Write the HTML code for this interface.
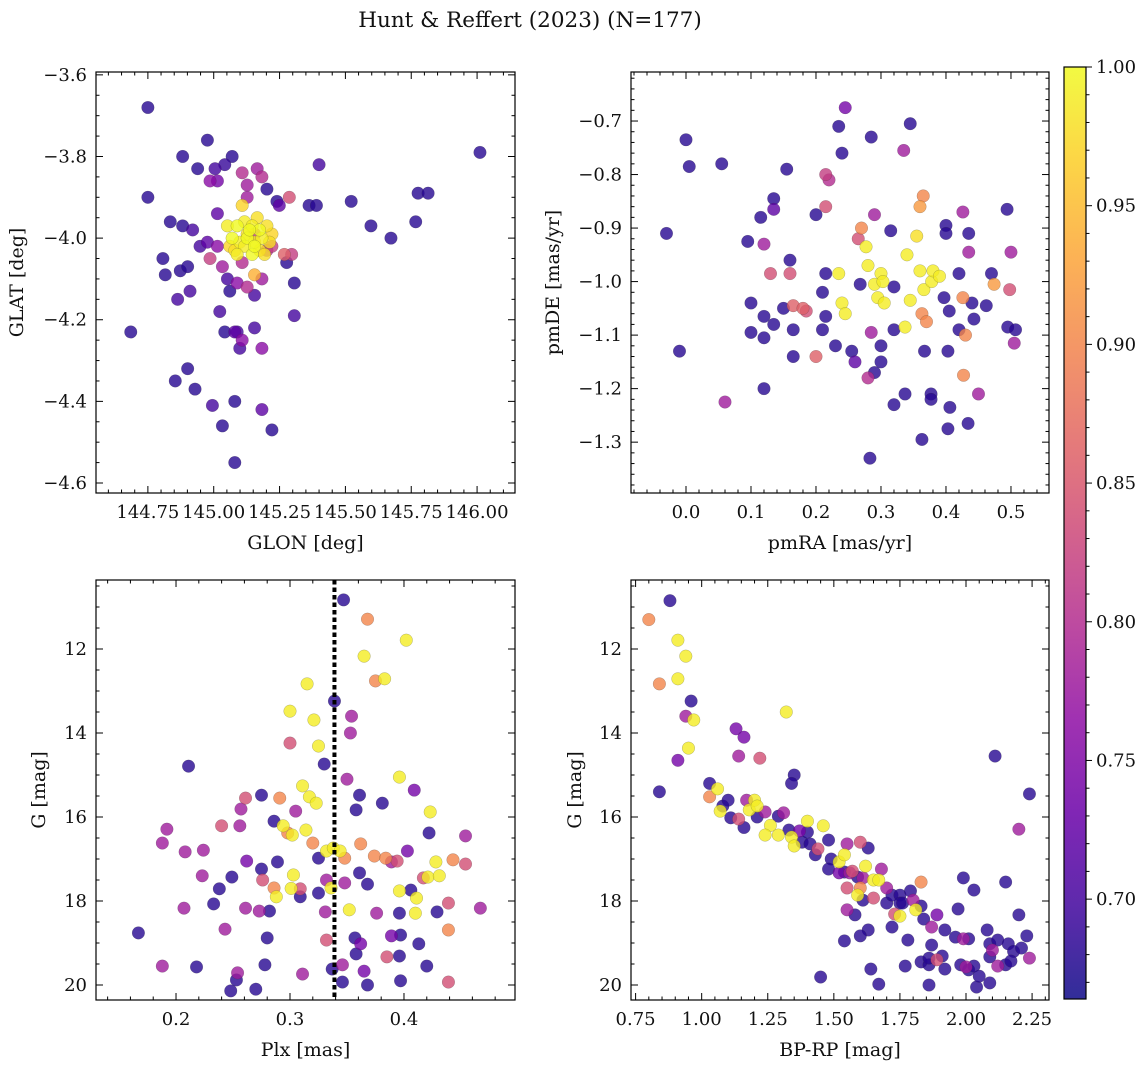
<!DOCTYPE html>
<html><head><meta charset="utf-8">
<style>
html,body{margin:0;padding:0;background:#fff;}
svg text{font-family:"DejaVu Serif","Liberation Serif",serif;fill:#111;}
</style></head>
<body>
<svg id="fig" width="1148" height="1067" viewBox="0 0 1148 1067" xmlns="http://www.w3.org/2000/svg">
<text x="530" y="27" font-size="21.5" text-anchor="middle">Hunt &amp; Reffert (2023) (N=177)</text>
</svg>
<script>
// ---------- Panel 1: GLON vs GLAT ----------
const glonVals=[144.750,144.976,144.882,145.070,145.042,144.939,145.005,145.127,145.108,145.165,145.183,145.202,145.014,144.986,145.240,144.750,144.835,144.882,144.920,145.014,145.127,145.287,145.362,145.390,145.522,145.597,145.673,145.767,145.776,145.814,146.011,145.400,144.685,144.807,144.816,144.873,144.863,144.901,144.910,144.986,145.014,145.033,145.052,145.089,145.061,145.127,145.155,145.023,145.042,145.089,145.108,145.080,145.155,145.183,145.268,145.277,145.306,145.306,144.901,144.854,144.929,144.995,145.033,145.080,145.183,145.221,145.080,145.099,145.183,145.202,145.108,145.155,144.976,144.948,145.221,145.296,145.155,145.249,
145.089,145.117,145.146,145.174,145.202,145.070,145.099,145.127,145.155,145.183,145.212,145.080,145.117,145.146,145.174,145.052,145.061,145.136,145.193,145.108,145.165,145.221,145.089,145.155,145.127];
const glatVals=[-3.68,-3.76,-3.80,-3.80,-3.82,-3.83,-3.83,-3.87,-3.84,-3.83,-3.85,-3.88,-3.86,-3.86,-3.91,-3.90,-3.96,-3.97,-3.98,-3.94,-3.90,-3.90,-3.92,-3.92,-3.91,-3.97,-4.00,-3.96,-3.89,-3.89,-3.79,-3.82,-4.23,-4.05,-4.09,-4.08,-4.15,-4.07,-4.13,-4.05,-4.02,-4.07,-4.10,-4.11,-4.13,-4.12,-4.14,-4.18,-4.23,-4.23,-4.25,-4.23,-4.22,-4.27,-4.04,-4.06,-4.11,-4.19,-4.32,-4.35,-4.37,-4.41,-4.46,-4.40,-4.42,-4.47,-4.55,-4.27,-4.10,-4.03,-4.06,-3.99,-4.01,-4.02,-4.02,-4.04,-4.09,-3.92,
-3.97,-3.96,-3.97,-3.98,-3.97,-4.00,-4.01,-4.00,-4.01,-4.00,-4.01,-4.03,-4.02,-4.04,-4.03,-3.97,-4.02,-3.98,-4.04,-3.92,-3.95,-3.99,-4.04,-4.02,-3.99];
const prob1=[0.68,0.68,0.68,0.68,0.69,0.68,0.70,0.78,0.80,0.78,0.80,0.68,0.74,0.76,0.68,0.68,0.68,0.68,0.70,0.72,0.78,0.84,0.68,0.68,0.68,0.68,0.68,0.68,0.68,0.68,0.68,0.70,0.68,0.68,0.68,0.68,0.70,0.68,0.70,0.82,0.76,0.78,0.70,0.76,0.68,0.80,0.70,0.70,0.68,0.70,0.76,0.72,0.70,0.76,0.86,0.68,0.68,0.70,0.68,0.68,0.68,0.70,0.68,0.68,0.72,0.68,0.68,0.70,0.78,0.80,0.80,0.82,0.72,0.70,0.82,0.82,0.94,0.72,
1.0,0.99,0.99,1.0,0.98,1.0,0.99,1.0,0.99,0.99,0.98,0.98,0.99,1.0,0.98,0.99,0.97,1.0,0.98,0.97,0.98,0.97,0.99,1.0,0.98];

// ---------- Panel 2: pmRA vs pmDE ----------
const pmraVals=[-0.03,-0.01,0.0,0.005,0.055,0.06,0.095,0.1,0.1,0.115,0.12,0.12,0.12,0.12,0.135,0.135,0.13,0.135,0.15,0.155,0.16,0.16,0.165,0.165,0.165,0.18,0.185,0.2,0.2,0.21,0.21,0.215,0.22,0.215,0.215,0.215,0.23,0.235,0.24,0.245,0.245,0.235,0.24,0.255,0.26,0.265,0.27,0.268,0.277,0.28,0.285,0.29,0.29,0.295,0.3,0.303,0.305,0.3,0.3,0.285,0.28,0.29,0.315,0.32,0.32,0.32,0.283,0.335,0.345,0.34,0.345,0.337,0.337,0.355,0.36,0.365,0.36,0.366,0.363,0.37,0.367,0.363,0.377,0.377,0.378,0.38,0.39,0.397,0.4,0.4,0.405,0.403,0.406,0.403,0.42,0.42,0.426,0.426,0.427,0.43,0.434,0.435,0.44,0.443,0.435,0.45,0.462,0.47,0.474,0.494,0.5,0.498,0.495,0.505,0.507];
const pmdeVals=[-0.91,-1.13,-0.735,-0.785,-0.78,-1.225,-0.925,-1.04,-1.095,-0.88,-0.93,-1.065,-1.105,-1.20,-0.845,-0.865,-0.985,-1.08,-1.05,-0.79,-0.96,-0.985,-1.045,-1.09,-1.14,-1.05,-1.055,-0.875,-1.14,-1.02,-1.09,-0.80,-0.81,-0.86,-0.985,-1.065,-1.12,-0.985,-1.04,-1.06,-0.675,-0.71,-0.76,-1.13,-1.15,-0.92,-0.90,-1.005,-0.935,-0.97,-0.73,-1.005,-0.875,-1.03,-0.985,-1.0,-1.04,-1.12,-1.15,-1.095,-1.18,-1.17,-0.905,-1.01,-1.09,-1.23,-1.33,-0.755,-0.705,-0.95,-1.035,-1.085,-1.21,-0.915,-0.86,-0.84,-0.98,-1.015,-1.06,-1.075,-1.13,-1.295,-1.21,-1.22,-1.0,-0.98,-0.99,-1.03,-0.895,-0.91,-1.055,-1.13,-1.235,-1.275,-1.09,-0.985,-1.03,-0.87,-1.175,-1.10,-1.265,-0.945,-1.04,-1.07,-0.91,-1.21,-1.045,-0.985,-1.005,-0.865,-0.945,-1.015,-1.085,-1.115,-1.09];
const prob2=[0.68,0.68,0.68,0.68,0.68,0.78,0.68,0.68,0.68,0.68,0.78,0.68,0.68,0.68,0.68,0.72,0.84,0.68,0.68,0.68,0.68,0.84,0.86,0.68,0.68,0.86,0.84,0.68,0.86,0.68,0.68,0.82,0.80,0.84,0.68,0.68,0.68,0.99,0.99,0.99,0.74,0.68,0.68,0.68,0.72,0.84,0.90,0.68,0.99,0.99,0.68,0.99,0.78,0.99,0.99,0.99,0.99,0.68,0.68,0.78,0.80,0.68,0.68,0.68,0.68,0.68,0.68,0.78,0.68,0.99,0.99,0.99,0.68,0.98,0.92,0.90,0.99,0.99,0.90,0.90,0.68,0.68,0.68,0.68,0.99,0.99,0.99,0.68,0.68,0.68,0.68,0.68,0.68,0.68,0.68,0.68,0.90,0.78,0.90,0.90,0.68,0.78,0.68,0.68,0.68,0.78,0.68,0.68,0.92,0.68,0.78,0.84,0.68,0.78,0.68];

// ---------- Panel 3: Plx vs G ----------
const plxVals=[0.347,0.368,0.402,0.365,0.375,0.383,0.315,0.339,0.300,0.321,0.354,0.353,0.300,0.325,0.330,0.291,0.211,0.311,0.317,0.323,0.305,0.350,0.396,0.409,0.261,0.257,0.275,0.361,0.358,0.381,0.423,0.422,0.454,0.188,0.192,0.208,0.224,0.240,0.256,0.286,0.294,0.298,0.302,0.314,0.320,0.325,0.332,0.338,0.344,0.348,0.362,0.374,0.384,0.389,0.394,0.403,0.428,0.443,0.421,0.431,0.417,0.454,0.223,0.249,0.262,0.275,0.289,0.276,0.286,0.288,0.303,0.309,0.309,0.325,0.332,0.336,0.348,0.361,0.368,0.396,0.406,0.411,0.238,0.207,0.233,0.261,0.273,0.282,0.301,0.331,0.352,0.376,0.410,0.429,0.439,0.467,0.167,0.243,0.280,0.332,0.357,0.362,0.389,0.397,0.413,0.439,0.188,0.218,0.254,0.278,0.311,0.337,0.346,0.358,0.365,0.385,0.396,0.420,0.439,0.248,0.346,0.368,0.397,0.253,0.270,0.396];
const gmag3=[10.83,11.29,11.79,12.17,12.76,12.71,12.83,13.24,13.48,13.69,13.6,14.0,14.24,14.31,14.74,15.55,14.79,15.26,15.52,15.67,15.86,15.1,15.05,15.36,15.55,15.81,15.48,15.48,15.83,15.67,15.88,16.38,16.45,16.62,16.29,16.83,16.79,16.21,16.21,16.1,16.21,16.38,16.43,16.31,16.62,16.98,16.81,16.74,16.81,16.98,16.64,16.93,16.98,17.07,17.05,16.81,17.07,17.02,17.43,17.40,17.45,17.12,17.40,17.43,17.05,17.24,17.07,17.5,17.69,17.9,17.38,17.71,17.9,17.81,17.5,17.69,17.57,17.33,17.6,17.76,17.74,17.93,17.71,18.17,18.07,18.17,18.24,18.24,17.7,18.26,18.21,18.29,18.29,18.26,18.05,18.17,18.76,18.67,18.88,18.93,18.88,19.02,18.83,18.81,19.02,18.69,19.55,19.57,19.71,19.52,19.74,19.62,19.52,19.26,19.67,19.33,19.31,19.55,19.93,20.14,19.93,20.0,19.9,19.88,20.1,18.29];
const prob3=[0.68,0.90,0.99,0.99,0.90,0.99,0.99,0.68,0.99,0.99,0.78,0.78,0.84,0.99,0.68,0.90,0.68,0.99,0.99,0.99,0.78,0.78,0.99,0.74,0.84,0.78,0.68,0.68,0.68,0.68,0.99,0.68,0.78,0.78,0.78,0.78,0.78,0.84,0.78,0.68,0.99,0.90,0.99,0.99,0.90,0.68,0.99,0.99,0.99,0.90,0.90,0.90,0.90,0.78,0.84,0.74,0.99,0.90,0.99,0.99,0.84,0.84,0.78,0.68,0.74,0.68,0.68,0.84,0.90,0.99,0.99,0.84,0.68,0.68,0.78,0.99,0.78,0.68,0.68,0.99,0.68,0.99,0.68,0.78,0.68,0.78,0.78,0.68,0.99,0.78,0.99,0.78,0.99,0.68,0.84,0.78,0.68,0.78,0.68,0.84,0.68,0.74,0.74,0.68,0.68,0.90,0.78,0.68,0.78,0.68,0.78,0.68,0.78,0.68,0.74,0.84,0.68,0.68,0.84,0.68,0.68,0.68,0.68,0.68,0.68,0.68];

// ---------- Panel 4: BP-RP vs G ----------
const bprpVals=[0.80,0.88,0.84,0.91,0.91,0.94,0.96,0.97,0.95,0.94,0.91,0.84,1.03,1.03,1.07,1.08,1.11,1.06,1.10,1.14,1.13,1.16,1.14,1.16,1.17,1.18,1.20,1.21,1.22,1.21,1.24,1.26,1.24,1.29,1.31,1.32,1.29,1.33,1.34,1.35,1.37,1.38,1.35,1.34,1.40,1.40,1.41,1.43,1.44,1.46,1.48,1.49,1.52,1.54,1.55,1.48,1.54,1.57,1.55,1.56,1.59,1.60,1.61,1.59,1.61,1.52,1.55,1.58,1.60,1.63,1.62,1.65,1.65,1.67,1.68,1.70,1.70,1.72,1.63,1.60,1.54,1.45,1.64,1.67,1.73,1.75,1.72,1.75,1.78,1.75,1.76,1.83,1.79,1.80,1.81,1.83,1.86,1.86,1.77,1.83,1.84,1.89,1.87,1.89,1.92,1.87,1.86,1.91,1.92,1.96,2.01,2.01,1.97,1.99,2.03,2.00,2.03,2.04,1.98,2.08,2.09,2.09,2.10,2.12,2.16,2.15,2.18,2.17,1.99,2.05,2.09,2.11,2.15,2.20,2.24,2.20,2.12,2.21,2.24,2.23];
const gmag4=[11.3,10.85,12.83,11.79,12.71,12.17,13.24,13.69,14.36,13.6,14.65,15.4,15.52,15.2,15.86,15.74,16.02,15.33,15.6,14.55,13.9,14.1,16.05,16.25,15.6,15.83,15.6,15.74,14.6,16.0,15.88,16.2,16.43,15.98,15.9,13.5,16.43,16.31,16.48,16.69,16.33,16.6,15.0,15.2,16.1,16.36,16.64,16.9,16.76,16.21,16.55,17.0,17.07,16.9,16.64,17.24,17.31,17.29,17.69,17.33,17.43,17.69,17.45,17.86,17.98,17.33,18.21,18.33,16.6,16.74,17.17,17.5,17.93,17.5,17.24,17.69,18.05,17.86,18.69,18.83,18.95,19.81,19.62,19.98,18.31,17.86,18.62,18.05,18.93,18.36,18.05,17.55,17.76,17.98,18.21,19.45,19.52,20.0,19.55,18.12,18.43,19.4,18.62,18.33,18.69,19.05,19.36,19.31,19.62,18.86,18.9,19.64,18.19,18.9,17.74,19.57,19.55,20.05,19.52,18.69,19.02,19.33,19.17,18.93,19.02,19.52,19.2,19.43,17.45,19.79,19.95,14.55,17.55,16.29,15.45,18.33,19.55,19.12,19.36,18.83];
const prob4=[0.90,0.68,0.90,0.99,0.99,0.99,0.68,0.99,0.99,0.78,0.74,0.68,0.90,0.68,0.99,0.68,0.68,0.99,0.68,0.78,0.74,0.74,0.84,0.68,0.78,0.99,0.99,0.99,0.84,0.68,0.78,0.99,0.99,0.68,0.78,0.99,0.99,0.68,0.99,0.99,0.74,0.68,0.68,0.68,0.99,0.68,0.68,0.68,0.84,0.99,0.68,0.68,0.99,0.99,0.78,0.68,0.68,0.84,0.84,0.78,0.68,0.90,0.78,0.99,0.68,0.74,0.78,0.68,0.84,0.68,0.99,0.99,0.84,0.99,0.78,0.78,0.68,0.68,0.68,0.68,0.68,0.68,0.68,0.68,0.84,0.68,0.68,0.68,0.68,0.99,0.68,0.90,0.68,0.78,0.99,0.68,0.68,0.68,0.68,0.68,0.68,0.84,0.78,0.74,0.68,0.68,0.68,0.68,0.68,0.68,0.68,0.68,0.68,0.78,0.68,0.78,0.68,0.68,0.68,0.68,0.68,0.68,0.78,0.68,0.68,0.68,0.68,0.68,0.68,0.68,0.68,0.68,0.68,0.78,0.68,0.68,0.78,0.68,0.78,0.68,0.68,0.68];

// ---------- Colour map ----------
const cmin=0.664, cmax=1.0;
const plasmaStops=["#0d0887","#41049d","#6a00a8","#8f0da4","#b12a90","#cc4778","#e16462","#f2844b","#fca636","#fcce25","#f0f921"];
function hex2rgb(h){return [parseInt(h.substr(1,2),16),parseInt(h.substr(3,2),16),parseInt(h.substr(5,2),16)];}
function plasma(t){t=Math.max(0,Math.min(1,t));const s=t*10;const i=Math.min(9,Math.floor(s));const f=s-i;
 const a=hex2rgb(plasmaStops[i]),b=hex2rgb(plasmaStops[i+1]);
 return "rgb("+a.map((v,k)=>Math.round(v+(b[k]-v)*f)).join(",")+")";}
function colorOf(p){return plasma((p-cmin)/(cmax-cmin));}

const NS="http://www.w3.org/2000/svg";
const svg=document.getElementById('fig');
function mk(tag,attrs,parent){const e=document.createElementNS(NS,tag);for(const k in attrs)e.setAttribute(k,attrs[k]);(parent||svg).appendChild(e);return e;}
function fmt(v,d){const s=Math.abs(v).toFixed(d);return (v<-1e-9?"\u2212":"")+s;}
const FS=18;

function panel(o){
 const g=mk('g',{});
 
 
 const sx=v=>o.x0+(v-o.xmin)/(o.xmax-o.xmin)*(o.x1-o.x0);
 const sy=v=>o.inv? o.y0+(v-o.ymin)/(o.ymax-o.ymin)*(o.y1-o.y0) : o.y1-(v-o.ymin)/(o.ymax-o.ymin)*(o.y1-o.y0);
 const idx=o.xs.map((_,i)=>i).sort((a,b)=>o.ps[a]-o.ps[b]);
 const pg=mk('g',{},g);
 
 
 idx.forEach(i=>{
  const c=mk('circle',{cx:sx(o.xs[i]),cy:sy(o.ys[i]),r:6.3,fill:colorOf(o.ps[i]),'fill-opacity':0.8,stroke:'#333','stroke-opacity':0.35,'stroke-width':0.5},pg);
  
  
 });
 if(o.vline!==undefined){
  const l=mk('line',{x1:sx(o.vline),x2:sx(o.vline),y1:o.y0,y2:o.y1,stroke:'#000','stroke-width':4,'stroke-dasharray':'4.5,3'},g);
  
  
 }
 const fr=mk('rect',{x:o.x0,y:o.y0,width:o.x1-o.x0,height:o.y1-o.y0,fill:'none',stroke:'#000','stroke-width':1.2},g);
 
 
 const eps=1e-9;
 const xs0=Math.ceil((o.xmin-eps)/o.xminor)*o.xminor;
 for(let v=xs0;v<=o.xmax+eps;v+=o.xminor){
  const major=Math.abs(v/o.xmajor-Math.round(v/o.xmajor))<1e-6;
  const L=major?7:3.5;const X=sx(v);
  mk('line',{x1:X,x2:X,y1:o.y1,y2:o.y1-L,stroke:'#000','stroke-width':1},g);
  mk('line',{x1:X,x2:X,y1:o.y0,y2:o.y0+L,stroke:'#000','stroke-width':1},g);
  if(major){const t=mk('text',{x:X,y:o.y1+25,'font-size':FS,'text-anchor':'middle'},g);t.textContent=fmt(Math.round(v/o.xmajor)*o.xmajor,o.xd);
   }
 }
 const ys0=Math.ceil((o.ymin-eps)/o.yminor)*o.yminor;
 for(let v=ys0;v<=o.ymax+eps;v+=o.yminor){
  const major=Math.abs(v/o.ymajor-Math.round(v/o.ymajor))<1e-6;
  const L=major?7:3.5;const Y=sy(v);
  mk('line',{x1:o.x0,x2:o.x0+L,y1:Y,y2:Y,stroke:'#000','stroke-width':1},g);
  mk('line',{x1:o.x1,x2:o.x1-L,y1:Y,y2:Y,stroke:'#000','stroke-width':1},g);
  if(major){const t=mk('text',{x:o.x0-9,y:Y+6,'font-size':FS,'text-anchor':'end'},g);t.textContent=fmt(Math.round(v/o.ymajor)*o.ymajor,o.yd);
   }
 }
 const xl=mk('text',{x:(o.x0+o.x1)/2,y:o.y1+56,'font-size':19,'text-anchor':'middle'},g);xl.textContent=o.xlabel;
 
 const yl=mk('text',{x:0,y:0,'font-size':19,'text-anchor':'middle',transform:`translate(${o.ylx},${(o.y0+o.y1)/2}) rotate(-90)`},g);yl.textContent=o.ylabel;
 
}

panel({name:'glon-glat-panel',xs:glonVals,ys:glatVals,ps:prob1,x0:96,x1:515,y0:72,y1:493,xmin:144.553,xmax:146.144,ymin:-4.6245,ymax:-3.593,xmajor:0.25,xminor:0.05,ymajor:0.2,yminor:0.05,xd:2,yd:1,xlabel:'GLON [deg]',ylabel:'GLAT [deg]',ylx:23});
panel({name:'pm-panel',xs:pmraVals,ys:pmdeVals,ps:prob2,x0:631,x1:1049,y0:72,y1:493,xmin:-0.0846,xmax:0.5585,ymin:-1.395,ymax:-0.6084,xmajor:0.1,xminor:0.02,ymajor:0.1,yminor:0.02,xd:1,yd:1,xlabel:'pmRA [mas/yr]',ylabel:'pmDE [mas/yr]',ylx:559});
panel({name:'plx-g-panel',xs:plxVals,ys:gmag3,ps:prob3,x0:96,x1:515,y0:580,y1:1000,xmin:0.1298,xmax:0.4974,ymin:10.357,ymax:20.357,inv:true,xmajor:0.1,xminor:0.02,ymajor:2,yminor:0.5,xd:1,yd:0,xlabel:'Plx [mas]',ylabel:'G [mag]',ylx:45,vline:0.339});
panel({name:'cmd-panel',xs:bprpVals,ys:gmag4,ps:prob4,x0:631,x1:1049,y0:580,y1:1000,xmin:0.7326,xmax:2.314,ymin:10.357,ymax:20.357,inv:true,xmajor:0.25,xminor:0.05,ymajor:2,yminor:0.5,xd:2,yd:0,xlabel:'BP-RP [mag]',ylabel:'G [mag]',ylx:581});

// ---------- Colour bar ----------
(function(){
 const cb=mk('g',{});
 
 
 const x0=1064,x1=1086,y0=67,y1=999;
 const grad=mk('linearGradient',{id:'cbg',x1:0,y1:1,x2:0,y2:0},mk('defs',{},cb));
 for(let i=0;i<=20;i++){mk('stop',{offset:i/20,'stop-color':plasma(i/20),'stop-opacity':0.85},grad);}
 mk('rect',{x:x0,y:y0,width:x1-x0,height:y1-y0,fill:'url(#cbg)',stroke:'#000','stroke-width':1.2},cb);
 const sy=v=>y1-(v-cmin)/(cmax-cmin)*(y1-y0);
 for(let k=67;k<=100;k++){const v=k/100;const major=k%5===0;const Y=sy(v);
  mk('line',{x1:x1,x2:x1+(major?6:3.5),y1:Y,y2:Y,stroke:'#000','stroke-width':1},cb);
  if(major){const t=mk('text',{x:x1+10,y:Y+6,'font-size':FS},cb);t.textContent=v.toFixed(2);
   }
 }
})();
</script>
</body></html>
